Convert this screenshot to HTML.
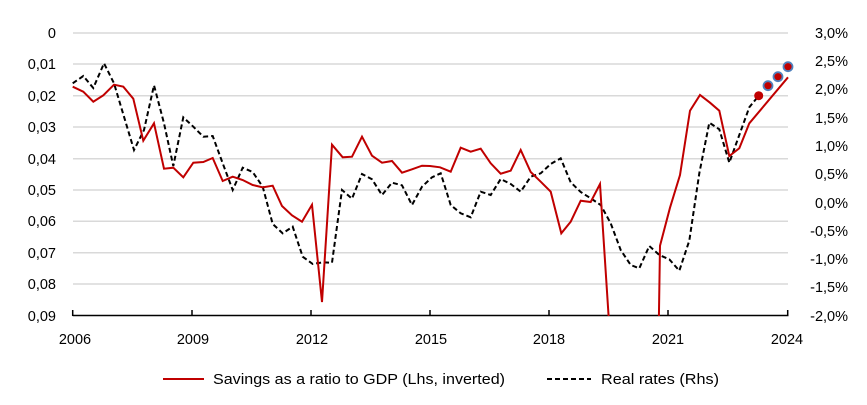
<!DOCTYPE html>
<html><head><meta charset="utf-8"><style>
body{margin:0;background:#fff}
svg{display:block;font-family:"Liberation Sans",sans-serif;font-size:14.5px;fill:#000}
</style></head><body>
<svg width="867" height="405" viewBox="0 0 867 405" xmlns="http://www.w3.org/2000/svg">
<defs><clipPath id="c"><rect x="70" y="28" width="725" height="288"/></clipPath></defs>
<g stroke="#d9d9d9" stroke-width="1.5">
<line x1="73" x2="788" y1="33" y2="33"/><line x1="73" x2="788" y1="64" y2="64"/><line x1="73" x2="788" y1="95.7" y2="95.7"/><line x1="73" x2="788" y1="127" y2="127"/><line x1="73" x2="788" y1="158.7" y2="158.7"/><line x1="73" x2="788" y1="190" y2="190"/><line x1="73" x2="788" y1="221.3" y2="221.3"/><line x1="73" x2="788" y1="252.7" y2="252.7"/><line x1="73" x2="788" y1="284" y2="284"/>
</g>
<g stroke="#000" stroke-width="1.5">
<line x1="72.7" x2="788.5" y1="315.5" y2="315.5"/>
<line x1="72.7" x2="72.7" y1="310" y2="316"/><line x1="192" x2="192" y1="310" y2="316"/><line x1="311" x2="311" y1="310" y2="316"/><line x1="430" x2="430" y1="310" y2="316"/><line x1="549" x2="549" y1="310" y2="316"/><line x1="668" x2="668" y1="310" y2="316"/><line x1="787.7" x2="787.7" y1="310" y2="316"/>
</g>
<g clip-path="url(#c)" fill="none">
<polyline stroke="#000" stroke-width="2" stroke-dasharray="5,3" points="72.7,83.3 83.3,76 93.3,88 104,63.3 114,83.3 124,116.7 134,150 144,130 154,85.3 164,123.3 173.3,166 183.3,117.3 193.3,126.7 203.3,136.7 212.7,136 222.7,163.3 232.7,190 242.7,167.7 252.7,172 262.7,186.7 272.7,224 282.7,233.3 292.7,226.7 302.7,256.7 312.7,264 322.7,262.3 332,262.7 342,190 352,198.7 362,174 372,179.3 382,195 392,182.7 402,185.3 412,205 422,186.7 432,177.3 440.7,173.3 450.7,205 460.7,213.3 470.7,217.3 480.7,191.7 490.7,195 500.7,179 510.7,184 520.7,191.7 530.7,176.7 540.7,173.3 550.7,164 560.7,158.3 570.7,182.3 580.7,192 590.7,198.3 600.7,205 610.7,223.3 620.7,250 630.7,265 639.3,268.3 649.3,246 659.3,255 669.3,259.3 679.3,270.7 689.3,240.7 699.3,173.3 709.3,122.7 719.3,129.3 729.3,162.7 739.3,135 749.3,107.3 758.7,95.7"/>
<polyline stroke="#c00000" stroke-width="2" points="72.7,86.7 83.3,91.7 93.3,101.7 103.3,95.3 114,84.7 123.3,86.7 133.3,98.7 143.3,140.7 154,123.3 164,168.7 173.3,167.7 183.3,177.3 193.3,162.7 203.3,162 212.7,158 222.7,181 232.7,176.7 242.7,180 252.7,185 262.7,187.3 272.7,185.7 282,206 292,215.3 302,221.7 312,204.7 322,302 332,144.7 342.7,157.3 352,156.7 362,136.7 372,155.7 382,162.7 392,161 402,172.7 412,169.3 422,165.7 430,166 440,167.3 450.7,171.7 460.7,147.7 470.7,151.7 480.7,148.7 490.7,163.3 500.7,173.7 510.7,170.7 520.7,150 530.7,172 540.7,181.7 550.7,191.7 561.3,233.3 570.7,221.7 580.7,200.7 590.7,202 600,184 609.5,330 658.7,330 660,245.7 670,207.7 680,175 690,110.7 700,95 710,102.7 719.3,110.7 729.3,156 739.3,148.3 749.3,123.3 788,77.3"/>
</g>
<circle cx="758.7" cy="95.7" r="4.5" fill="#c00000"/>
<g fill="#c00000" stroke="#4f81bd" stroke-width="1.8">
<circle cx="768" cy="85.7" r="4.5"/><circle cx="778" cy="76.7" r="4.5"/><circle cx="788" cy="66.7" r="4.5"/>
</g>
<g text-anchor="end">
<text x="56" y="38">0</text><text x="56" y="69">0,01</text><text x="56" y="101">0,02</text><text x="56" y="132">0,03</text><text x="56" y="164">0,04</text><text x="56" y="195">0,05</text><text x="56" y="226">0,06</text><text x="56" y="258">0,07</text><text x="56" y="289">0,08</text><text x="56" y="321">0,09</text>
</g>
<g text-anchor="end">
<text x="848" y="38">3,0%</text><text x="848" y="66">2,5%</text><text x="848" y="94">2,0%</text><text x="848" y="123">1,5%</text><text x="848" y="151">1,0%</text><text x="848" y="179">0,5%</text><text x="848" y="208">0,0%</text><text x="848" y="236">-0,5%</text><text x="848" y="264">-1,0%</text><text x="848" y="292">-1,5%</text><text x="848" y="321">-2,0%</text>
</g>
<g text-anchor="middle">
<text x="75" y="344">2006</text><text x="193" y="344">2009</text><text x="312" y="344">2012</text><text x="431" y="344">2015</text><text x="549" y="344">2018</text><text x="668" y="344">2021</text><text x="787" y="344">2024</text>
</g>
<line x1="163" x2="204" y1="379" y2="379" stroke="#c00000" stroke-width="2"/>
<text x="213" y="384" textLength="292" lengthAdjust="spacingAndGlyphs">Savings as a ratio to GDP (Lhs, inverted)</text>
<line x1="547" x2="591" y1="379" y2="379" stroke="#000" stroke-width="2" stroke-dasharray="5,3"/>
<text x="601" y="384" textLength="118" lengthAdjust="spacingAndGlyphs">Real rates (Rhs)</text>
</svg>
</body></html>
